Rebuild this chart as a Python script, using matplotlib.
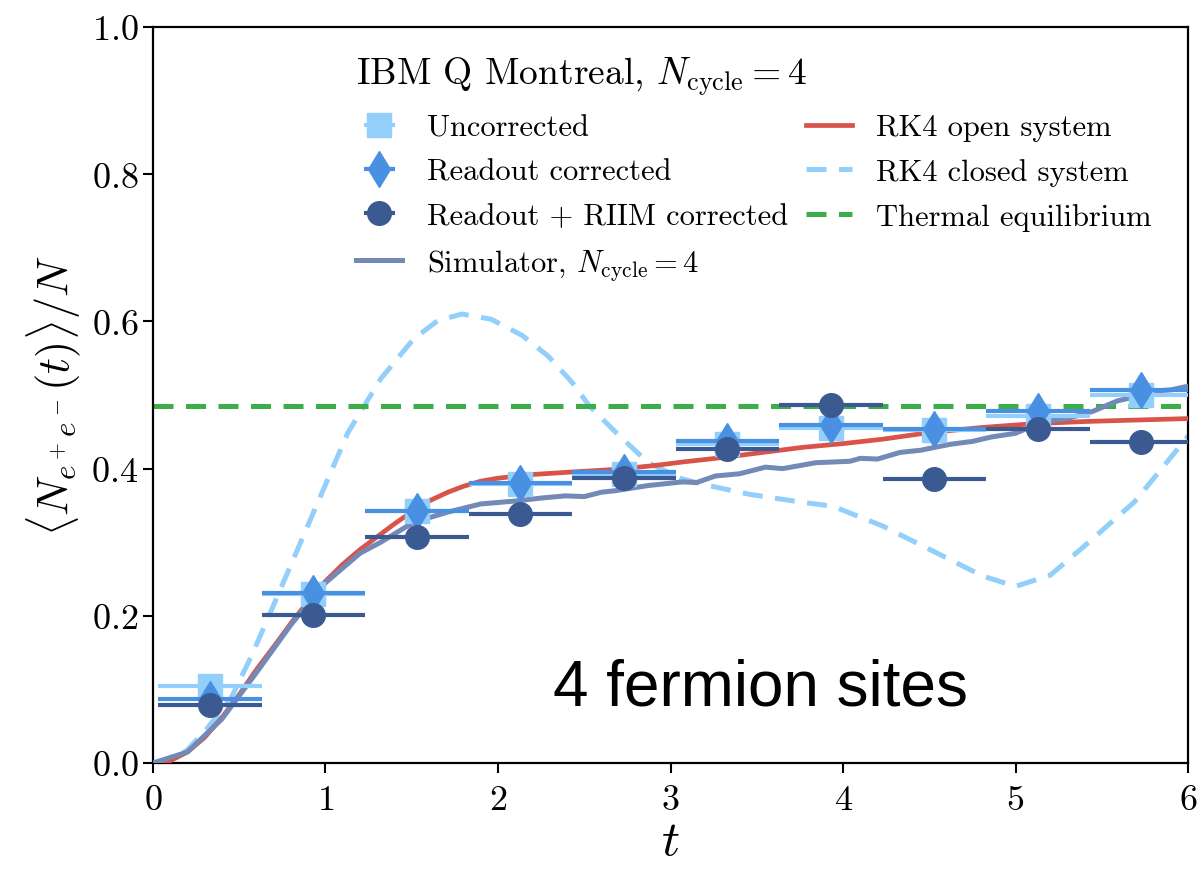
"""
Pair production vs time, IBM Q Montreal, 4 fermion sites
"""
import matplotlib
matplotlib.use("Agg")
import matplotlib.pyplot as plt

plt.rcParams['font.family'] = 'cmr10'
plt.rcParams['mathtext.fontset'] = 'cm'
plt.rcParams['axes.formatter.use_mathtext'] = True

# measured points (time bins of width 0.6)
t_pts = [0.33, 0.93, 1.53, 2.13, 2.73, 3.33, 3.93, 4.53, 5.13, 5.73]
dt_half = 0.3
uncorrected = [0.104, 0.230, 0.342, 0.379, 0.393, 0.433, 0.455, 0.452, 0.472, 0.500]
readout = [0.087, 0.231, 0.342, 0.381, 0.396, 0.437, 0.459, 0.454, 0.478, 0.507]
riim = [0.079, 0.201, 0.307, 0.338, 0.387, 0.426, 0.487, 0.386, 0.454, 0.436]

# RK4 open system
t_open = [0.0, 0.1, 0.2, 0.3, 0.4, 0.5, 0.6, 0.7, 0.8, 0.9, 1.0, 1.1, 1.2, 1.32, 1.4,
          1.51, 1.6, 1.71, 1.8, 1.9, 2.0, 2.2, 2.4, 2.68, 2.9, 3.07, 3.3, 3.5, 3.77,
          4.0, 4.23, 4.5, 4.81, 5.1, 5.4, 5.7, 6.0]
y_open = [0.0, 0.003, 0.015, 0.035, 0.062, 0.093, 0.127, 0.158, 0.19, 0.22, 0.247,
          0.27, 0.29, 0.311, 0.325, 0.343, 0.356, 0.368, 0.376, 0.383, 0.387, 0.392,
          0.395, 0.399, 0.404, 0.409, 0.415, 0.421, 0.429, 0.434, 0.440, 0.449,
          0.456, 0.461, 0.464, 0.466, 0.468]

# RK4 closed system
t_closed = [0.0, 0.12, 0.2, 0.31, 0.45, 0.57, 0.70, 0.81, 0.97, 1.13, 1.32, 1.51,
            1.65, 1.79, 1.96, 2.14, 2.29, 2.43, 2.53, 2.68, 2.87, 3.07, 3.2, 3.46,
            3.77, 3.94, 4.23, 4.53, 4.81, 5.0, 5.2, 5.4, 5.69, 6.0]
y_closed = [0.0, 0.005, 0.018, 0.046, 0.087, 0.145, 0.215, 0.275, 0.362, 0.449,
            0.522, 0.576, 0.601, 0.610, 0.603, 0.581, 0.553, 0.517, 0.485, 0.45,
            0.408, 0.386, 0.378, 0.365, 0.354, 0.349, 0.322, 0.287, 0.254, 0.24,
            0.255, 0.295, 0.355, 0.444]

# simulator, N_cycle = 4
t_sim = [0.0, 0.2, 0.4, 0.6, 0.8, 1.0, 1.2, 1.32, 1.51, 1.71, 1.9, 2.1, 2.25, 2.39,
         2.5, 2.6, 2.68, 2.87, 3.07, 3.15, 3.26, 3.4, 3.55, 3.65, 3.77, 3.84, 4.04,
         4.1, 4.2, 4.33, 4.45, 4.62, 4.75, 4.86, 5.0, 5.1, 5.2, 5.3, 5.45, 5.59, 5.7,
         5.78, 5.9, 6.0]
y_sim = [0.0, 0.015, 0.06, 0.123, 0.188, 0.245, 0.285, 0.30, 0.327, 0.341, 0.352,
         0.356, 0.36, 0.363, 0.362, 0.368, 0.370, 0.377, 0.382, 0.381, 0.390, 0.393,
         0.402, 0.400, 0.405, 0.408, 0.410, 0.414, 0.413, 0.422, 0.425, 0.433, 0.437,
         0.443, 0.448, 0.458, 0.465, 0.468, 0.478, 0.492, 0.498, 0.505, 0.507, 0.512]

thermal = 0.485

c_unc = '#92cffa'
c_ro = '#4a90e2'
c_riim = '#3b5a92'
c_sim = '#7389b6'
c_red = '#d9534a'
c_green = '#3bae49'

fig = plt.figure(figsize=(11.98, 8.70), dpi=100)
ax = fig.add_axes([0.1277, 0.1218, 0.8640, 0.8460])

l_open, = ax.plot(t_open, y_open, color=c_red, lw=3.4, label='RK4 open system', zorder=3)
l_closed, = ax.plot(t_closed, y_closed, color=c_unc, lw=3.6, dashes=(4.0, 2.5),
                    label='RK4 closed system', zorder=2)
l_th = ax.axhline(thermal, color=c_green, lw=3.6, dashes=(4.0, 2.5),
                  label='Thermal equilibrium', zorder=2)
l_sim, = ax.plot(t_sim, y_sim, color=c_sim, lw=3.6, label=r'Simulator, $N_{\rm cycle}=4$', zorder=3)

xe = [dt_half] * len(t_pts)
e_unc = ax.errorbar(t_pts, uncorrected, xerr=xe, fmt='s', color=c_unc, ms=17, elinewidth=3,
                    capsize=0, label='Uncorrected', zorder=4)
e_ro = ax.errorbar(t_pts, readout, xerr=xe, fmt='d', color=c_ro, ms=18, elinewidth=3,
                   capsize=0, label='Readout corrected', zorder=5)
e_riim = ax.errorbar(t_pts, riim, xerr=xe, fmt='o', color=c_riim, ms=17, elinewidth=3,
                     capsize=0, label='Readout + RIIM corrected', zorder=6)

ax.set_xlim(0, 6)
ax.set_ylim(0, 1.0)
ax.set_xticks([0, 1, 2, 3, 4, 5, 6])
ax.set_yticks([0.0, 0.2, 0.4, 0.6, 0.8, 1.0])
ax.tick_params(labelsize=26, length=7, width=1.5, direction='out')
ax.tick_params(axis='x', pad=8)
for s in ax.spines.values():
    s.set_linewidth(1.6)

ax.set_xlabel(r'$t$', fontsize=36, labelpad=2)
ax.set_ylabel(r'$\langle N_{e^+e^-}(t)\rangle/N$', fontsize=32, labelpad=6)

ax.text(3.52, 0.103, '4 fermion sites', fontsize=46, family='Liberation Sans',
        ha='center', va='center')

handles = [e_unc, e_ro, e_riim, l_sim, l_open, l_closed, l_th]
labels = [h.get_label() for h in handles]
ax.legend(handles, labels, ncol=2, frameon=False, fontsize=22,
          title=r'IBM Q Montreal, $N_{\rm cycle}=4$', title_fontsize=27,
          alignment='left', loc='upper left', bbox_to_anchor=(0.17, 1.0),
          handlelength=1.5, handletextpad=0.8, columnspacing=0.6, labelspacing=0.55)

fig.savefig('out.png', dpi=100)
